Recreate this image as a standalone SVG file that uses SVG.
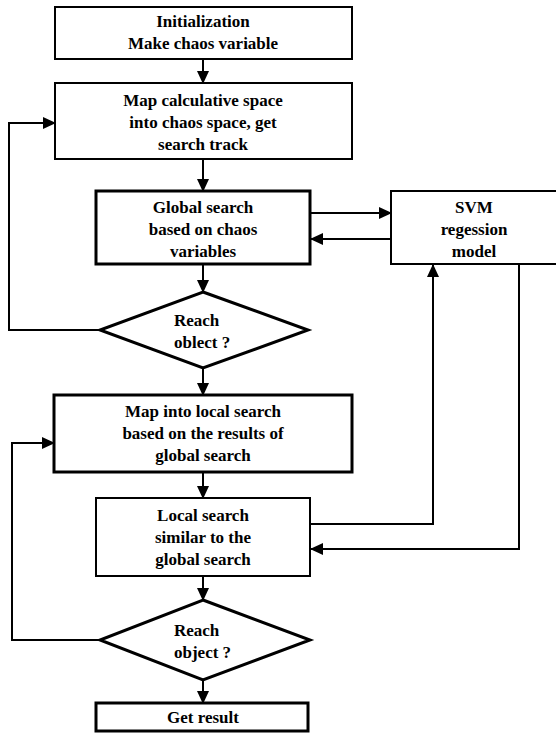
<svg xmlns="http://www.w3.org/2000/svg" width="556" height="733" viewBox="0 0 556 733">
<defs>
<marker id="ah" markerUnits="userSpaceOnUse" markerWidth="13" markerHeight="12" refX="12" refY="6" orient="auto">
<path d="M0,0 L13,6 L0,12 z" fill="#000"/>
</marker>
<style>
.box{fill:#fff;stroke:#000;stroke-width:2}
.thick{stroke-width:3}
.t{font-family:'Liberation Serif','DejaVu Serif',serif;font-weight:bold;font-size:17px;fill:#000;text-anchor:middle}
.ts{font-family:'Liberation Serif','DejaVu Serif',serif;font-weight:bold;font-size:17px;fill:#000;text-anchor:start}
.c{fill:none;stroke:#000;stroke-width:2}
</style>
</defs>
<rect width="556" height="733" fill="#fff"/>
<g id="connectors">
<line class="c" x1="203" y1="59" x2="203" y2="83" marker-end="url(#ah)"/>
<line class="c" x1="203" y1="159" x2="203" y2="191" marker-end="url(#ah)"/>
<line class="c" x1="203" y1="264" x2="203" y2="292" marker-end="url(#ah)"/>
<line class="c" x1="203" y1="368" x2="203" y2="395" marker-end="url(#ah)"/>
<line class="c" x1="203" y1="472" x2="203" y2="498" marker-end="url(#ah)"/>
<line class="c" x1="203" y1="576" x2="203" y2="600" marker-end="url(#ah)"/>
<line class="c" x1="203" y1="680" x2="203" y2="703" marker-end="url(#ah)"/>
<polyline class="c" points="100,330 9,330 9,123 55,123" marker-end="url(#ah)"/>
<polyline class="c" points="100,640 12,640 12,443 54,443" marker-end="url(#ah)"/>
<line class="c" x1="310" y1="213" x2="391" y2="213" marker-end="url(#ah)"/>
<line class="c" x1="391" y1="239" x2="311" y2="239" marker-end="url(#ah)"/>
<polyline class="c" points="310,524 433,524 433,265" marker-end="url(#ah)"/>
<polyline class="c" points="519,264 519,549 311,549" marker-end="url(#ah)"/>
</g>
<g id="n1">
<rect class="box" x="55" y="7" width="297" height="52"/>
<text class="t" x="203" y="27">Initialization</text>
<text class="t" x="203" y="49">Make chaos variable</text>
</g>
<g id="n2">
<rect class="box" x="55" y="83" width="297" height="76"/>
<text class="t" x="203" y="106">Map calculative space</text>
<text class="t" x="203" y="128">into chaos space, get</text>
<text class="t" x="203" y="150">search track</text>
</g>
<g id="n3">
<rect class="box thick" x="96" y="191" width="214" height="73"/>
<text class="t" x="203" y="213">Global search</text>
<text class="t" x="203" y="235">based on chaos</text>
<text class="t" x="203" y="257">variables</text>
</g>
<g id="svm">
<rect class="box" x="391" y="191" width="170" height="73"/>
<text class="t" x="474" y="213">SVM</text>
<text class="t" x="474" y="235">regession</text>
<text class="t" x="474" y="257">model</text>
</g>
<g id="d1">
<polygon class="box thick" points="203,292 308,330 203,368 100,330"/>
<text class="ts" x="174" y="326">Reach</text>
<text class="ts" x="174" y="348">oblect ?</text>
</g>
<g id="n4">
<rect class="box thick" x="54" y="395" width="298" height="77"/>
<text class="t" x="203" y="417">Map into local search</text>
<text class="t" x="203" y="439">based on the results of</text>
<text class="t" x="203" y="461">global search</text>
</g>
<g id="n5">
<rect class="box" x="96" y="498" width="214" height="78"/>
<text class="t" x="203" y="521">Local search</text>
<text class="t" x="203" y="543">similar to the</text>
<text class="t" x="203" y="565">global search</text>
</g>
<g id="d2">
<polygon class="box thick" points="203,600 310,640 203,680 100,640"/>
<text class="ts" x="174" y="636">Reach</text>
<text class="ts" x="174" y="658">object ?</text>
</g>
<g id="n6">
<rect class="box thick" x="96" y="703" width="212" height="28"/>
<text class="t" x="203" y="723">Get result</text>
</g>
</svg>
